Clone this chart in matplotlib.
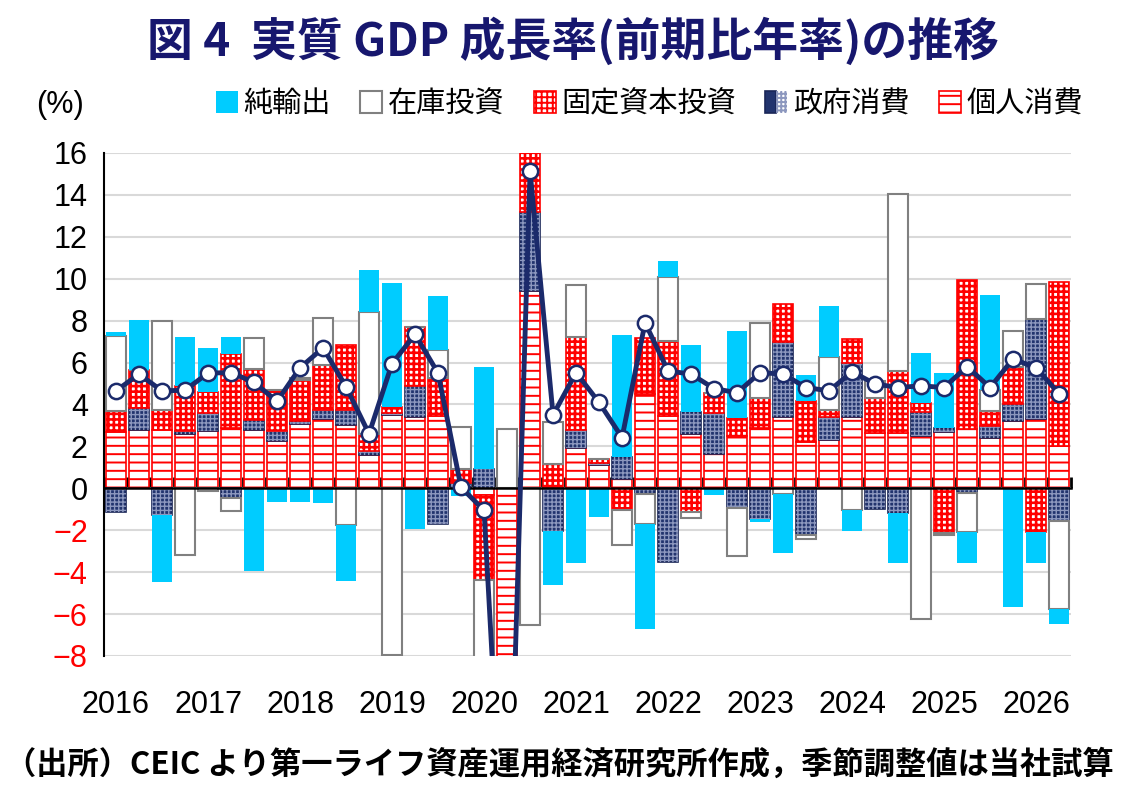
import numpy as np
import matplotlib
matplotlib.use("Agg")
import matplotlib.pyplot as plt
from matplotlib import font_manager
from matplotlib import transforms
from matplotlib.legend_handler import HandlerTuple

# --- data (contribution to real GDP growth, % annualised q/q) ---
years = ["2016", "2017", "2018", "2019", "2020", "2021",
         "2022", "2023", "2024", "2025", "2026"]

personal = [2.7, 2.8, 2.8, 2.6, 2.75, 2.9, 2.8, 2.25, 3.05, 3.3,
            3.0, 1.6, 3.5, 3.4, 3.45, 0.0, -0.3, -16.0, 9.4, 0.0,
            1.9, 1.1, 0.45, 4.5, 3.45, 2.6, 1.65, 2.5, 2.9, 3.4,
            2.23, 2.31, 3.4, 2.65, 2.63, 2.52, 2.68, 2.84, 2.39, 3.19,
            3.32, 2.03]
gov = [-1.15, 1.05, -1.25, 0.13, 0.85, -0.45, 0.47, 0.5, 0.15, 0.45,
       0.75, 0.2, 0.1, 1.5, -1.7, 0.27, 0.92, 0.0, 3.8, -2.05,
       0.9, 0.13, 1.05, -0.27, -3.5, 1.05, 1.95, -0.92, -1.48, 3.6,
       -2.21, 1.08, 2.6, -1.0, -1.19, 1.13, 0.19, -0.23, 0.56, 0.81,
       4.74, -1.56]
fixed = [1.0, 1.8, 0.95, 2.15, 1.0, 3.5, 2.4, 1.95, 1.95, 2.15,
         3.1, 0.8, 0.3, 2.8, 1.8, 0.64, -4.08, -3.0, 3.5, 1.18,
         4.4, 0.15, -1.05, 2.65, 3.6, -1.15, 0.97, 0.87, 1.42, 1.8,
         1.94, 0.37, 1.13, 1.67, 2.98, 0.44, -2.13, 7.1, 0.76, 1.81,
         -2.1, 7.81]
inventory = [3.55, 0.0, 4.25, -3.2, -0.15, -0.65, 1.5, 0.0, 0.1, 2.25,
             -1.75, 5.8, -7.95, 0.0, 1.35, 2.0, -6.0, 2.85, -6.5, 1.97,
             2.5, 0.0, -1.65, -1.45, 3.05, -0.27, 0.0, -2.3, 3.55, -0.27,
             -0.21, 2.5, -1.03, 0.8, 8.42, -6.24, -0.08, -1.87, 0.97, 1.71,
             1.69, -4.19]
net_exports = [0.2, 2.4, -3.2, 2.35, 2.1, 0.8, -3.95, -0.65, -0.65, -0.7,
               -2.65, 2.0, 5.9, -1.95, 2.6, -0.35, 4.85, -5.0, 6.0, -2.55,
               -3.55, -1.35, 5.8, -5.0, 0.75, 3.2, -0.32, 4.15, -0.13, -2.82,
               1.26, 2.45, -1.02, 0.0, -2.35, 2.37, 2.61, -1.45, 4.56, -5.68,
               -1.45, -0.73]
gdp = [4.65, 5.45, 4.65, 4.68, 5.5, 5.52, 5.06, 4.15, 5.75, 6.7,
       4.85, 2.6, 5.95, 7.35, 5.5, 0.05, -1.05, -21.0, 15.15, 3.5,
       5.52, 4.1, 2.42, 7.9, 5.6, 5.45, 4.76, 4.56, 5.52, 5.45,
       4.81, 4.65, 5.56, 4.98, 4.81, 4.89, 4.81, 5.81, 4.81, 6.18,
       5.74, 4.52]

labels = ["純輸出", "在庫投資", "固定資本投資", "政府消費", "個人消費"]

# fonts
names = {f.name for f in font_manager.fontManager.ttflist}
num_font = "Liberation Sans Narrow" if "Liberation Sans Narrow" in names else "Liberation Sans"
jp_font = "Noto Sans CJK JP"
plt.rcParams["font.family"] = [num_font, jp_font]
plt.rcParams["hatch.linewidth"] = 1.4

cyan = "#00CCFF"
navy = "#1B2A6B"
red = "#FF0000"

fig = plt.figure(figsize=(11.26, 7.96), dpi=100)
ax = fig.add_axes([0.0928, 0.1759, 0.858, 0.6319])

x = np.arange(len(gdp))
w = 0.86

# stacked bars, positives and negatives stacked separately (Excel style)
pos = np.zeros(len(x))
neg = np.zeros(len(x))
bottoms = []
for vals in [personal, gov, fixed, inventory, net_exports]:
    v = np.array(vals)
    bottoms.append(np.where(v >= 0, pos, neg))
    pos += np.clip(v, 0, None)
    neg += np.clip(v, None, 0)

b_pers = ax.bar(x, personal, w, bottom=bottoms[0], color="white",
                edgecolor=red, linewidth=1.2, hatch="--", zorder=2)
b_gov = ax.bar(x, gov, w, bottom=bottoms[1], color="#22346E",
               edgecolor="#1A2658", linewidth=1.2, zorder=2)
with plt.rc_context({"hatch.linewidth": 1.0}):
    b_gov2 = ax.bar(x, gov, w, bottom=bottoms[1], color="none",
                    edgecolor="#8C97BE", linewidth=0, hatch="++++", zorder=2)
with plt.rc_context({"hatch.linewidth": 1.9}):
    b_fix = ax.bar(x, fixed, w, bottom=bottoms[2], color="white",
                   edgecolor=red, linewidth=1.2, hatch="+++", zorder=2)
b_inv = ax.bar(x, inventory, w, bottom=bottoms[3], color="white",
               edgecolor="#808080", linewidth=1.5, zorder=2)
b_net = ax.bar(x, net_exports, w, bottom=bottoms[4], color=cyan,
               edgecolor="none", zorder=2)

ax.plot(x, gdp, color=navy, lw=3.5, marker="o", ms=11, mfc="white",
        mec=navy, mew=1.8, zorder=5)

# axes styling
ax.set_xlim(-0.5, len(x) - 0.5)
ax.set_ylim(-8, 16)
ax.set_yticks(np.arange(-8, 17, 2))
ax.set_axisbelow(True)
ax.grid(axis="y", color="#D9D9D9", lw=1.5)
for s in ["top", "right"]:
    ax.spines[s].set_visible(False)
ax.spines["left"].set_linewidth(1.5)
ax.spines["bottom"].set_position(("data", 0))
ax.spines["bottom"].set_linewidth(1.8)
ax.set_xticks(np.arange(-0.5, len(x), 1))
ax.tick_params(axis="x", direction="in", length=8, width=2, labelbottom=False)
ax.tick_params(axis="y", length=0, pad=12, labelsize=22)
for t in ax.get_yticklabels():
    if float(t.get_text().replace("−", "-")) < 0:
        t.set_color(red)

trans = transforms.blended_transform_factory(ax.transData, ax.transAxes)
for i, yr in enumerate(years):
    ax.text(4 * i, -0.097, yr, transform=trans, ha="center", va="center",
            fontsize=22)

# titles and notes
fig.text(0.509, 0.948, "図 4  実質 GDP 成長率(前期比年率)の推移", ha="center",
         va="center", fontsize=33, fontweight="bold", color="#17176E",
         family=jp_font)
fig.text(0.053, 0.868, "(%)", ha="center", va="center", fontsize=22)
fig.text(0.004, 0.039, "（出所）CEIC より第一ライフ資産運用経済研究所作成，季節調整値は当社試算",
         ha="left", va="center", fontsize=22.5, fontweight="bold",
         family=jp_font)

handles = [b_net, b_inv, b_fix, (b_gov, b_gov2), b_pers]
fig.legend(handles, labels, loc="center right", bbox_to_anchor=(0.985, 0.869),
           ncol=5, frameon=False, handlelength=0.75, handleheight=0.75,
           handletextpad=0.2, columnspacing=1.0,
           prop={"family": jp_font, "size": 21},
           handler_map={tuple: HandlerTuple(ndivide=None, pad=0)})

fig.savefig("out.png", dpi=100)
